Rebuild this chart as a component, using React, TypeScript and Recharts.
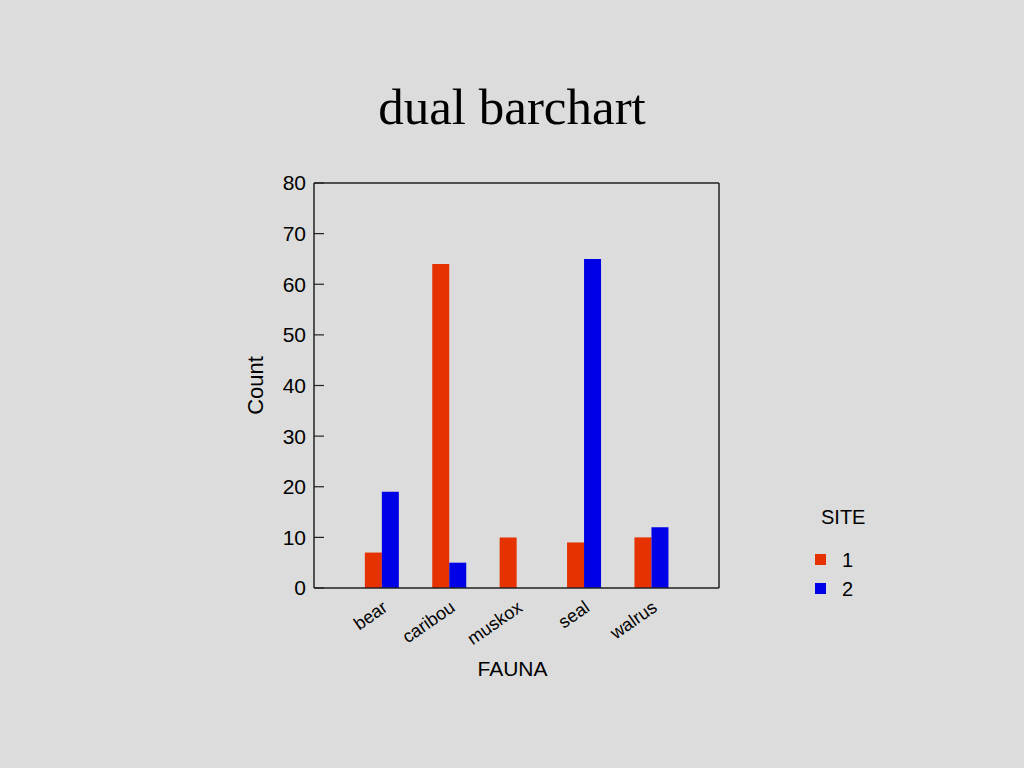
import { BarChart, Bar, XAxis, YAxis, ReferenceLine } from "recharts";

const fauna = ["bear", "caribou", "muskox", "seal", "walrus"];
const site1 = [7, 64, 10, 9, 10];
const site2 = [19, 5, 0, 65, 12];
const countTicks = [0, 10, 20, 30, 40, 50, 60, 70, 80];
const sites = ["1", "2"];
const siteColors = ["#e63200", "#0000e6"];

const data = fauna.map((f, i) => ({ fauna: f, s1: site1[i], s2: site2[i] }));

const sans = "'Liberation Sans', Arial, sans-serif";

function FaunaTick({ x, y, payload }: any) {
  const ax = x + 7;
  const ay = y + 14;
  return (
    <text
      x={ax}
      y={ay}
      textAnchor="end"
      transform={`rotate(-35 ${ax} ${ay})`}
      fontSize={18}
      fontFamily={sans}
      fill="#000"
    >
      {payload.value}
    </text>
  );
}

function SiteLegend() {
  return (
    <div style={{ position: "absolute", left: 800, top: 500, width: 80, height: 110, fontFamily: sans, fontSize: 20, lineHeight: "20px", color: "#000" }}>
      <div style={{ position: "absolute", left: 21, top: 7 }}>SITE</div>
      {sites.map((s, i) => (
        <div key={s}>
          <div style={{ position: "absolute", left: 15, top: 54 + i * 29, width: 11, height: 11, background: siteColors[i] }} />
          <div style={{ position: "absolute", left: 42, top: 50 + i * 29 }}>{s}</div>
        </div>
      ))}
    </div>
  );
}

export default function App() {
  return (
    <div style={{ position: "absolute", left: 0, top: 0, width: 1024, height: 768, background: "#dcdcdc", overflow: "hidden" }}>
      <div
        style={{
          position: "absolute",
          left: 0,
          top: 82,
          width: 1024,
          textAlign: "center",
          fontFamily: "'Liberation Serif', 'Times New Roman', serif",
          fontSize: 51,
          lineHeight: "50px",
          color: "#000",
        }}
      >
        dual barchart
      </div>
      <BarChart
        width={1024}
        height={768}
        data={data}
        margin={{ top: 183, right: 295, bottom: 85, left: 254 }}
        barCategoryGap="25%"
        barGap={0}
        style={{ position: "absolute", left: 0, top: 0 }}
      >
        <XAxis
          dataKey="fauna"
          height={95}
          padding={{ left: 34, right: 34 }}
          axisLine={{ stroke: "#222", strokeWidth: 1.5 }}
          tickLine={false}
          tick={<FaunaTick />}
          interval={0}
          label={{ value: "FAUNA", position: "insideBottom", offset: 7, dx: -4, fontSize: 21, fontFamily: sans, fill: "#000" }}
        />
        <YAxis
          yAxisId="l"
          width={60}
          domain={[0, 80]}
          ticks={countTicks}
          interval={0}
          tickSize={-10}
          tickMargin={18}
          axisLine={{ stroke: "#222", strokeWidth: 1.5 }}
          tickLine={{ stroke: "#222", strokeWidth: 1.2 }}
          tick={{ fontSize: 21, fontFamily: sans, fill: "#000" }}
          label={{
            value: "Count",
            angle: -90,
            position: "insideLeft",
            offset: 1,
            fontSize: 22,
            fontFamily: sans,
            fill: "#000",
            style: { textAnchor: "middle" },
          }}
        />
        <YAxis
          yAxisId="r"
          orientation="right"
          width={10}
          domain={[0, 80]}
          ticks={countTicks}
          interval={0}
          tickSize={-10}
          axisLine={{ stroke: "#222", strokeWidth: 1.5 }}
          tickLine={{ stroke: "#222", strokeWidth: 1.2 }}
          tick={() => <g />}
        />
        <ReferenceLine yAxisId="l" y={80} stroke="#222" strokeWidth={1.5} />
        <Bar yAxisId="l" dataKey="s1" name={sites[0]} fill={siteColors[0]} isAnimationActive={false} />
        <Bar yAxisId="l" dataKey="s2" name={sites[1]} fill={siteColors[1]} isAnimationActive={false} />
      </BarChart>
      <SiteLegend />
    </div>
  );
}
